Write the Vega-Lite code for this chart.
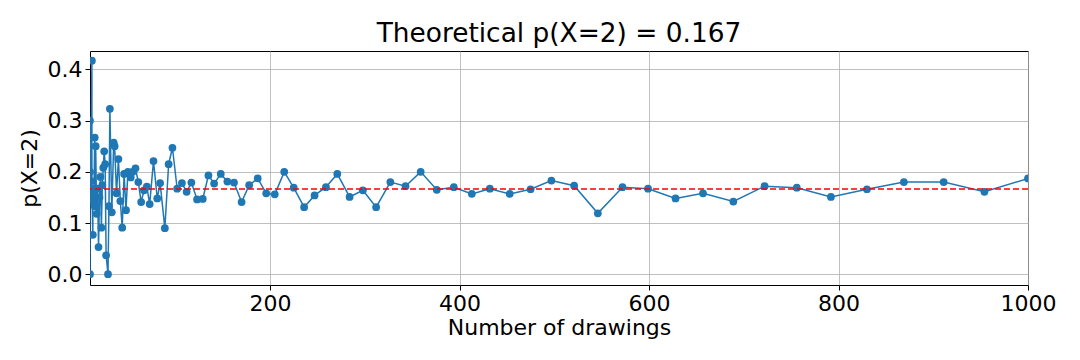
{
  "$schema": "https://vega.github.io/schema/vega-lite/v6.json",
  "width": 938,
  "height": 234,
  "autosize": {"type": "none"},
  "padding": {"left": 90, "top": 51, "right": 52, "bottom": 75},
  "background": "white",
  "title": {"text": "Theoretical p(X=2) = 0.167", "fontSize": 26.4, "font": "DejaVu Sans", "fontWeight": "normal", "color": "black", "anchor": "middle", "offset": -23, "baseline": "bottom"},
  "config": {
    "view": {"stroke": "black", "strokeWidth": 1},
    "axis": {
      "grid": true, "gridColor": "#b0b0b0", "gridWidth": 0.8, "domain": false,
      "tickColor": "black", "tickSize": 5, "tickWidth": 1,
      "labelFontSize": 22, "titleFontSize": 22, "labelFont": "DejaVu Sans", "titleFont": "DejaVu Sans",
      "labelColor": "black", "titleColor": "black", "titleFontWeight": "normal",
      "labelFlush": false, "labelOverlap": false, "labelPadding": 3
    }
  },
  "data": {"values": [
    {"i":0,"n":10,"p":0.0},{"i":1,"n":10,"p":0.3},{"i":2,"n":10,"p":0.2},{"i":3,"n":11,"p":0.182},
    {"i":4,"n":12,"p":0.417},{"i":5,"n":12,"p":0.167},{"i":6,"n":13,"p":0.077},{"i":7,"n":13,"p":0.154},
    {"i":8,"n":14,"p":0.143},{"i":9,"n":15,"p":0.267},{"i":10,"n":15,"p":0.133},{"i":11,"n":16,"p":0.25},
    {"i":12,"n":17,"p":0.118},{"i":13,"n":18,"p":0.167},{"i":14,"n":19,"p":0.053},{"i":15,"n":20,"p":0.15},
    {"i":16,"n":21,"p":0.19},{"i":17,"n":22,"p":0.091},{"i":18,"n":23,"p":0.174},{"i":19,"n":24,"p":0.208},
    {"i":20,"n":25,"p":0.24},{"i":21,"n":26,"p":0.215},{"i":22,"n":27,"p":0.037},{"i":23,"n":29,"p":0.0},
    {"i":24,"n":30,"p":0.133},{"i":25,"n":31,"p":0.323},{"i":26,"n":33,"p":0.121},{"i":27,"n":35,"p":0.257},
    {"i":28,"n":36,"p":0.25},{"i":29,"n":38,"p":0.158},{"i":30,"n":40,"p":0.225},{"i":31,"n":42,"p":0.143},
    {"i":32,"n":44,"p":0.091},{"i":33,"n":46,"p":0.196},{"i":34,"n":48,"p":0.125},{"i":35,"n":50,"p":0.2},
    {"i":36,"n":53,"p":0.189},{"i":37,"n":55,"p":0.2},{"i":38,"n":58,"p":0.207},{"i":39,"n":61,"p":0.18},
    {"i":40,"n":64,"p":0.141},{"i":41,"n":67,"p":0.164},{"i":42,"n":70,"p":0.171},{"i":43,"n":73,"p":0.137},
    {"i":44,"n":77,"p":0.221},{"i":45,"n":81,"p":0.148},{"i":46,"n":84,"p":0.178},{"i":47,"n":89,"p":0.09},
    {"i":48,"n":93,"p":0.215},{"i":49,"n":97,"p":0.247},{"i":50,"n":102,"p":0.167},{"i":51,"n":107,"p":0.178},
    {"i":52,"n":112,"p":0.161},{"i":53,"n":117,"p":0.179},{"i":54,"n":123,"p":0.146},{"i":55,"n":129,"p":0.147},
    {"i":56,"n":135,"p":0.193},{"i":57,"n":141,"p":0.177},{"i":58,"n":148,"p":0.196},{"i":59,"n":155,"p":0.181},
    {"i":60,"n":162,"p":0.179},{"i":61,"n":170,"p":0.141},{"i":62,"n":178,"p":0.174},{"i":63,"n":187,"p":0.187},
    {"i":64,"n":196,"p":0.158},{"i":65,"n":205,"p":0.156},{"i":66,"n":215,"p":0.2},{"i":67,"n":225,"p":0.169},
    {"i":68,"n":236,"p":0.131},{"i":69,"n":247,"p":0.154},{"i":70,"n":259,"p":0.17},{"i":71,"n":271,"p":0.196},
    {"i":72,"n":284,"p":0.151},{"i":73,"n":298,"p":0.164},{"i":74,"n":312,"p":0.131},{"i":75,"n":327,"p":0.18},
    {"i":76,"n":343,"p":0.172},{"i":77,"n":359,"p":0.2},{"i":78,"n":376,"p":0.165},{"i":79,"n":394,"p":0.17},
    {"i":80,"n":413,"p":0.157},{"i":81,"n":432,"p":0.167},{"i":82,"n":453,"p":0.157},{"i":83,"n":475,"p":0.166},
    {"i":84,"n":497,"p":0.183},{"i":85,"n":521,"p":0.173},{"i":86,"n":546,"p":0.119},{"i":87,"n":572,"p":0.17},
    {"i":88,"n":599,"p":0.167},{"i":89,"n":628,"p":0.148},{"i":90,"n":657,"p":0.158},{"i":91,"n":689,"p":0.142},
    {"i":92,"n":722,"p":0.172},{"i":93,"n":756,"p":0.169},{"i":94,"n":792,"p":0.151},{"i":95,"n":830,"p":0.166},
    {"i":96,"n":869,"p":0.18},{"i":97,"n":911,"p":0.18},{"i":98,"n":954,"p":0.161},{"i":99,"n":1000,"p":0.187}
  ]},
  "encoding": {
    "x": {"field": "n", "type": "quantitative", "scale": {"domain": [10, 1000], "nice": false, "zero": false},
          "axis": {"title": "Number of drawings", "values": [200, 400, 600, 800, 1000], "format": "d", "titlePadding": 3}},
    "y": {"field": "p", "type": "quantitative", "scale": {"domain": [-0.021, 0.436], "nice": false, "zero": false},
          "axis": {"title": "p(X=2)", "values": [0, 0.1, 0.2, 0.3, 0.4], "format": ".1f", "titlePadding": 6}}
  },
  "layer": [
    {"mark": {"type": "line", "color": "#1f77b4", "strokeWidth": 1.5, "clip": true},
     "encoding": {"order": {"field": "i", "type": "quantitative"}}},
    {"mark": {"type": "point", "filled": true, "color": "#1f77b4", "size": 60, "opacity": 1, "clip": true}},
    {"data": {"values": [{"theory": 0.16667}]},
     "mark": {"type": "rule", "color": "red", "strokeWidth": 1.5, "strokeDash": [6, 3]},
     "encoding": {"x": null, "y": {"field": "theory", "type": "quantitative", "title": "p(X=2)"}}}
  ]
}
